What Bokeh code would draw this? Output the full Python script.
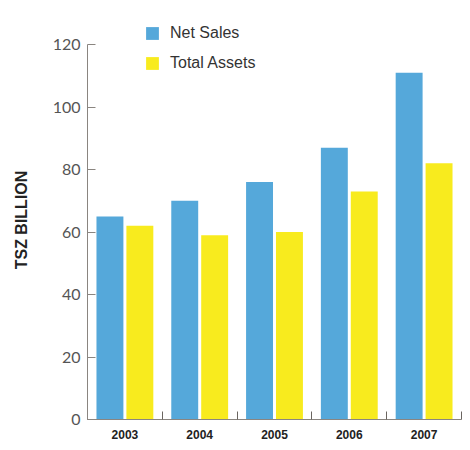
from bokeh.plotting import figure
from bokeh.models import ColumnDataSource, FixedTicker, Legend, LegendItem, Range1d
from bokeh.embed import file_html
from bokeh.resources import INLINE

years = ["2003", "2004", "2005", "2006", "2007"]
net_sales = [65, 70, 76, 87, 111]
total_assets = [62, 59, 60, 73, 82]
y_ticks = [0, 20, 40, 60, 80, 100, 120]

idx = list(range(len(years)))
src = ColumnDataSource(dict(
    xs=[i + 0.30 for i in idx],
    xa=[i + 0.70 for i in idx],
    sales=net_sales,
    assets=total_assets,
))

# frame extends 24px above the 120 line to leave room for the legend
px_per_unit = 375 / 120
y_top = 120 + 24 / px_per_unit

p = figure(width=470, height=450, output_backend="svg", toolbar_location=None,
           x_range=Range1d(0, len(years)), y_range=Range1d(0, y_top),
           min_border_left=87, min_border_right=9, min_border_top=20, min_border_bottom=31)
p.outline_line_color = None
p.xgrid.visible = False
p.ygrid.visible = False

blue = "#55a8da"
yellow = "#f8eb1e"
r1 = p.vbar(x="xs", top="sales", width=0.36, source=src, fill_color=blue, line_color=None)
r2 = p.vbar(x="xa", top="assets", width=0.36, source=src, fill_color=yellow, line_color=None)

# y axis
ya = p.yaxis[0]
ya.bounds = (0, 120)
ya.ticker = FixedTicker(ticks=y_ticks, minor_ticks=[])
ya.axis_line_color = "#8a8580"
ya.major_tick_line_color = "#8a8580"
ya.major_tick_in = 8
ya.major_tick_out = 0
ya.minor_tick_line_color = None
ya.major_label_standoff = 7
ya.major_label_text_font = "Lato"
ya.major_label_text_font_size = "16px"
ya.major_label_text_color = "#555555"
ya.axis_label = "TSZ BILLION"
ya.axis_label_text_font = "Liberation Sans"
ya.axis_label_text_font_style = "bold"
ya.axis_label_text_font_size = "16px"
ya.axis_label_text_color = "#222222"
ya.axis_label_standoff = 20

# x axis: labels at category centres, ticks at boundaries
xa = p.xaxis[0]
centers = [i + 0.5 for i in idx]
xa.ticker = FixedTicker(ticks=centers, minor_ticks=list(range(len(years) + 1)))
xa.major_label_overrides = {c: y for c, y in zip(centers, years)}
xa.major_tick_line_color = None
xa.major_tick_in = 0
xa.major_tick_out = 0
xa.minor_tick_in = 8
xa.minor_tick_out = 0
xa.minor_tick_line_color = "#6a6560"
xa.axis_line_color = "#8a8580"
xa.major_label_standoff = 10
xa.major_label_text_font = "Liberation Sans"
xa.major_label_text_font_style = "bold"
xa.major_label_text_font_size = "12px"
xa.major_label_text_color = "#222222"

legend = Legend(items=[LegendItem(label="Net Sales", renderers=[r1]),
                       LegendItem(label="Total Assets", renderers=[r2])],
                location=(57, 347), orientation="vertical",
                glyph_width=16, glyph_height=16, label_height=16,
                spacing=12, padding=0, margin=0, label_standoff=10,
                label_text_font="Liberation Sans", label_text_font_size="16px",
                label_text_color="#333333",
                background_fill_alpha=0, border_line_color=None)
p.add_layout(legend, "center")

open("out.html", "w").write(file_html(p, INLINE))
